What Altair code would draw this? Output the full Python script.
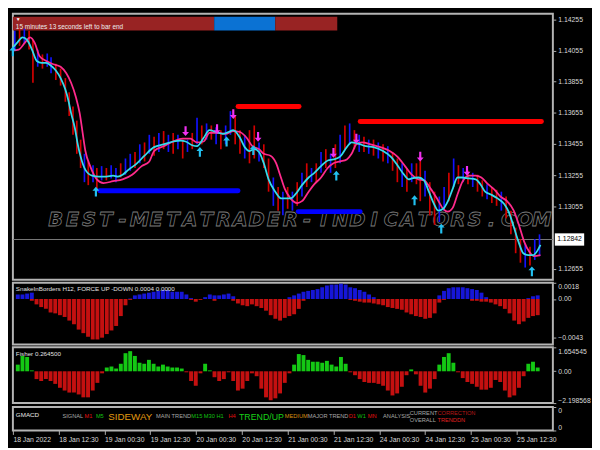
import json
import altair as alt
import pandas as pd

# ---------------- time axis (M15 bars, one label every 48 bars) ----------------
tick_bars = [0, 48, 96, 144, 192, 240, 288, 336, 384, 432, 480, 528]
tick_labels = ["18 Jan 2022", "18 Jan 12:30", "19 Jan 00:30", "19 Jan 12:30",
               "20 Jan 00:30", "20 Jan 12:30", "21 Jan 00:30", "21 Jan 12:30",
               "24 Jan 00:30", "24 Jan 12:30", "25 Jan 00:30", "25 Jan 12:30"]

# ---------------- price panel ----------------
price_ticks = [1.14255, 1.14055, 1.13855, 1.13655, 1.13455, 1.13255, 1.13055, 1.12655]
price_domain = [1.12583, 1.14291]
last_price = 1.12842
countdown_text = "15 minutes 13 seconds left to bar end"
watermark_text = "BEST-METATRADER-INDICATORS.COM"
watermark_span = [36, 563]

candle_bar = [2, 7, 12, 17, 21, 26, 31, 36, 40, 45, 50, 55, 59, 63, 67, 71, 75, 79, 84, 88,
              93, 98, 103, 108, 113, 118, 123, 128, 133, 138, 143, 148, 153, 158, 163, 168, 173, 178, 183, 188,
              193, 198, 203, 208, 213, 218, 223, 228, 233, 238, 243, 248, 253, 258, 263, 268, 273, 278, 283, 288,
              293, 298, 303, 308, 313, 318, 323, 328, 333, 338, 343, 348, 353, 358, 363, 368, 373, 378, 383, 388,
              393, 398, 403, 408, 413, 418, 423, 427, 432, 437, 442, 447, 452, 457, 462, 467, 472, 477, 482, 487,
              492, 497, 502, 507, 512, 517, 522, 527, 532, 537, 542, 547, 552]
candle_high = [1.14182, 1.14195, 1.14195, 1.14182, 1.14122, 1.14061, 1.14030, 1.14036, 1.14012, 1.13970,
               1.13939, 1.13878, 1.13787, 1.13696, 1.13605, 1.13483, 1.13392, 1.13343, 1.13319, 1.13301,
               1.13313, 1.13301, 1.13319, 1.13301, 1.13331, 1.13362, 1.13392, 1.13404, 1.13453, 1.13465,
               1.13514, 1.13501, 1.13526, 1.13538, 1.13514, 1.13526, 1.13514, 1.13483, 1.13483, 1.13526,
               1.13623, 1.13574, 1.13587, 1.13574, 1.13562, 1.13544, 1.13574, 1.13666, 1.13635, 1.13544,
               1.13514, 1.13544, 1.13574, 1.13465, 1.13453, 1.13362, 1.13240, 1.13179, 1.13149, 1.13179,
               1.13149, 1.13210, 1.13270, 1.13331, 1.13301, 1.13331, 1.13404, 1.13422, 1.13392, 1.13453,
               1.13514, 1.13574, 1.13587, 1.13544, 1.13514, 1.13501, 1.13483, 1.13483, 1.13465, 1.13453,
               1.13441, 1.13404, 1.13362, 1.13331, 1.13301, 1.13331, 1.13331, 1.13380, 1.13283, 1.13210,
               1.13149, 1.13118, 1.13179, 1.13270, 1.13362, 1.13319, 1.13301, 1.13283, 1.13270, 1.13258,
               1.13222, 1.13197, 1.13179, 1.13161, 1.13149, 1.13118, 1.13027, 1.12918, 1.12845, 1.12814,
               1.12796, 1.12845, 1.12875]
candle_low = [1.14061, 1.14085, 1.14097, 1.14061, 1.13848, 1.13951, 1.13939, 1.13951, 1.13909, 1.13866,
              1.13830, 1.13726, 1.13635, 1.13514, 1.13392, 1.13301, 1.13210, 1.13191, 1.13210, 1.13149,
              1.13222, 1.13222, 1.13234, 1.13210, 1.13240, 1.13258, 1.13283, 1.13301, 1.13331, 1.13343,
              1.13392, 1.13380, 1.13404, 1.13422, 1.13404, 1.13392, 1.13422, 1.13362, 1.13404, 1.13422,
              1.13453, 1.13453, 1.13483, 1.13483, 1.13453, 1.13422, 1.13453, 1.13514, 1.13453, 1.13392,
              1.13362, 1.13331, 1.13362, 1.13343, 1.13301, 1.13149, 1.13058, 1.13027, 1.12997, 1.13039,
              1.13027, 1.13058, 1.13118, 1.13179, 1.13210, 1.13210, 1.13270, 1.13301, 1.13270, 1.13301,
              1.13331, 1.13422, 1.13453, 1.13422, 1.13404, 1.13404, 1.13392, 1.13380, 1.13362, 1.13343,
              1.13331, 1.13283, 1.13210, 1.13179, 1.13149, 1.13210, 1.13197, 1.13088, 1.13118, 1.12997,
              1.12936, 1.12954, 1.13027, 1.13088, 1.13179, 1.13197, 1.13210, 1.13197, 1.13179, 1.13149,
              1.13118, 1.13100, 1.13076, 1.13058, 1.13027, 1.12979, 1.12875, 1.12754, 1.12693, 1.12662,
              1.12675, 1.12711, 1.12735]
candle_dir = ("u d u d d u d u u d d d d d d d u d u d u d u u d u u d u d "
              "u d u d u d u d u d u d u d u d u u d d u d d u d d u d u d "
              "u d u d u d u d u d u d u d u d u d u d u d d u d u d d u d "
              "d u u d u d u d u d d u d d u d d d d u d u u").split()

fast_bar = [0, 5, 10, 15, 20, 25, 30, 35, 40, 45, 50, 55, 58, 61, 65, 68, 71, 76, 83, 90,
            98, 105, 110, 115, 121, 130, 138, 148, 158, 168, 176, 181, 188, 193, 200, 206, 213, 220, 226, 231,
            238, 243, 248, 253, 258, 263, 268, 275, 281, 285, 291, 296, 303, 310, 316, 323, 330, 336, 343, 350,
            355, 361, 370, 378, 388, 396, 403, 410, 415, 418, 425, 431, 436, 441, 446, 451, 456, 461, 466, 471,
            478, 485, 490, 495, 501, 508, 515, 520, 525, 530, 535, 540, 545, 550, 553]
fast_ma = [1.14073, 1.14109, 1.14140, 1.14122, 1.14061, 1.13988, 1.13976, 1.13976, 1.13957, 1.13927,
           1.13878, 1.13805, 1.13739, 1.13653, 1.13556, 1.13453, 1.13374, 1.13289, 1.13252, 1.13246,
           1.13246, 1.13252, 1.13246, 1.13258, 1.13289, 1.13331, 1.13380, 1.13435, 1.13453, 1.13471,
           1.13477, 1.13471, 1.13447, 1.13441, 1.13495, 1.13544, 1.13532, 1.13520, 1.13532, 1.13544,
           1.13495, 1.13435, 1.13410, 1.13422, 1.13404, 1.13331, 1.13228, 1.13149, 1.13106, 1.13106,
           1.13106, 1.13131, 1.13191, 1.13240, 1.13270, 1.13313, 1.13349, 1.13356, 1.13374, 1.13435,
           1.13465, 1.13459, 1.13441, 1.13435, 1.13410, 1.13374, 1.13319, 1.13258, 1.13228, 1.13234,
           1.13240, 1.13222, 1.13149, 1.13076, 1.13027, 1.13039, 1.13088, 1.13167, 1.13240, 1.13240,
           1.13234, 1.13228, 1.13197, 1.13149, 1.13131, 1.13106, 1.13070, 1.13015, 1.12924, 1.12827,
           1.12754, 1.12741, 1.12741, 1.12772, 1.12808]

slow_bar = [0, 6, 13, 18, 23, 28, 35, 41, 50, 56, 61, 66, 70, 73, 76, 81, 88, 95, 105, 115,
            125, 135, 143, 148, 158, 168, 178, 186, 193, 200, 206, 215, 223, 231, 238, 245, 251, 258, 263, 270,
            276, 280, 285, 291, 298, 303, 310, 316, 323, 330, 336, 343, 350, 355, 360, 366, 375, 385, 395, 403,
            411, 418, 425, 431, 438, 445, 451, 456, 461, 466, 471, 478, 485, 491, 498, 505, 511, 518, 525, 531,
            536, 541, 546, 553]
slow_ma = [1.14055, 1.14061, 1.14109, 1.14140, 1.14103, 1.14018, 1.13988, 1.13970, 1.13951, 1.13909,
           1.13848, 1.13757, 1.13653, 1.13532, 1.13410, 1.13313, 1.13228, 1.13204, 1.13216, 1.13228,
           1.13258, 1.13313, 1.13343, 1.13410, 1.13441, 1.13471, 1.13489, 1.13489, 1.13465, 1.13471,
           1.13526, 1.13526, 1.13520, 1.13538, 1.13532, 1.13495, 1.13441, 1.13422, 1.13392, 1.13380,
           1.13331, 1.13258, 1.13167, 1.13106, 1.13076, 1.13088, 1.13149, 1.13197, 1.13240, 1.13301,
           1.13331, 1.13343, 1.13356, 1.13392, 1.13453, 1.13465, 1.13453, 1.13435, 1.13410, 1.13374,
           1.13313, 1.13258, 1.13228, 1.13222, 1.13167, 1.13100, 1.13039, 1.13021, 1.13045, 1.13131,
           1.13210, 1.13252, 1.13252, 1.13240, 1.13197, 1.13161, 1.13118, 1.13088, 1.13027, 1.12924,
           1.12827, 1.12766, 1.12735, 1.12741]

up_arrow_bar = [0, 87, 196, 224, 252, 339, 421, 449, 544]
up_arrow_price = [1.14049, 1.13149, 1.13404, 1.13471, 1.13416, 1.13252, 1.13094, 1.12912, 1.12638]
dn_arrow_bar = [181, 214, 231, 257, 336, 360, 427, 476]
dn_arrow_price = [1.13538, 1.13550, 1.13647, 1.13501, 1.13398, 1.13489, 1.13374, 1.13283]

level_start = [91, 299, 236, 364]
level_end = [236, 364, 300, 554]
level_price = [1.13155, 1.13021, 1.13696, 1.13599]
level_color = ["#0000ff", "#0000ff", "#ff0000", "#ff0000"]

header_start = [0, 211, 275]
header_end = [211, 275, 340]
header_color = ["#982323", "#0b72d3", "#982323"]

# ---------------- sub windows (sampled every 5 bars) ----------------
sub_bar = list(range(0, 556, 5))
snake_title = "SnakeInBorders H12, FORCE UP -DOWN  0.0004 0.0000"
snake_up = [0.0005, 0.0005, 0.0006, 0.0007, 0, 0, 0, 0, 0, 0,
            0, 0, 0, 0, 0, 0, 0, 0, 0, 0,
            0, 0, 0, 0, 0.00005, 0.0004, 0.0005, 0.0006, 0.0007, 0.0008,
            0.0009, 0.0010, 0.0010, 0.0008, 0.0008, 0.0008, 0.0005, 0.0001, 0, 0,
            0.0002, 0.0005, 0.0004, 0.0004, 0.0005, 0.0006, 0.0003, 0, 0, 0,
            0, 0, 0, 0, 0, 0, 0, 0, 0.0002, 0.0004,
            0.0006, 0.0008, 0.0009, 0.0010, 0.0011, 0.0013, 0.0015, 0.0016, 0.0016, 0.0017,
            0.0016, 0.0013, 0.0012, 0.0010, 0.0008, 0.0005, 0.0002, 0, 0, 0,
            0, 0, 0, 0, 0, 0, 0, 0, 0, 0,
            0.0004, 0.0009, 0.0012, 0.0013, 0.0013, 0.0013, 0.0012, 0.0011, 0.0010, 0.0007,
            0.0002, 0, 0, 0, 0, 0, 0, 0, 0, 0.0001,
            0.0003, 0.0004]
snake_dn = [0, 0, 0, -0.0002, -0.0006, -0.0009, -0.0011, -0.0015, -0.0016, -0.0018,
            -0.0020, -0.0024, -0.0028, -0.0034, -0.0038, -0.0042, -0.0045, -0.0045, -0.0043, -0.0039,
            -0.0035, -0.0030, -0.0019, -0.0007, -0.0001, 0, 0, 0, 0, 0,
            0, 0, 0, 0, 0, 0, 0, -0.0001, -0.0003, -0.0001,
            0, 0, -0.0002, 0, 0, 0, -0.0002, -0.0005, -0.0007, -0.0008,
            -0.0006, -0.0008, -0.0010, -0.0013, -0.0018, -0.0022, -0.0024, -0.0021, -0.0019, -0.0017,
            -0.0011, -0.0002, 0, 0, 0, 0, 0, 0, 0, 0,
            0, -0.0001, -0.0002, -0.0003, -0.0004, -0.0004, -0.0005, -0.0006, -0.0007, -0.0009,
            -0.0010, -0.0011, -0.0012, -0.0015, -0.0017, -0.0019, -0.0020, -0.0022, -0.0021, -0.0016,
            -0.0004, -0.0001, 0, 0, 0, 0, 0, -0.0002, -0.0002, -0.0003,
            -0.0003, -0.0004, -0.0006, -0.0008, -0.0011, -0.0016, -0.0024, -0.0028, -0.0025, -0.0021,
            -0.0019, -0.0018]
snake_ticks = [0.0018, 0.0, -0.0043]
snake_domain = [-0.00505, 0.0018]

fisher_title = "Fisher 0.264500"
fisher = [0.46, 1.06, 0.99, 0.06, -0.54, -0.67, -0.54, -0.67, -0.87, -1.14,
          -1.33, -1.47, -1.47, -1.60, -1.80, -1.80, -1.33, -0.80, -0.14, 0.26,
          0.33, 0.19, 0.52, 1.25, 1.39, 1.06, 0.59, 0.52, 0.79, 0.52,
          0.33, 0.46, 0.33, 0.26, 0.26, 0.19, -0.07, -0.67, -1.00, -0.14,
          0.52, 0.06, -0.41, -0.67, -0.54, -0.07, -0.67, -1.33, -1.20, -0.67,
          -0.14, -0.34, -1.20, -1.80, -2.00, -1.87, -1.53, -0.80, -0.14, 0.46,
          1.19, 1.12, 0.79, 0.66, 0.66, 0.59, 0.72, 0.46, 0.33, 0.99,
          0.52, -0.07, -0.27, -0.54, -0.74, -0.80, -0.80, -0.87, -1.00, -1.33,
          -1.67, -1.53, -1.07, -0.27, 0.13, -0.21, -1.00, -1.47, -1.20, -0.54,
          0.46, 0.99, 1.25, 0.59, -0.07, -0.47, -0.74, -0.87, -1.07, -1.27,
          -1.27, -1.14, -0.60, -0.74, -1.33, -1.80, -1.67, -1.14, -0.34, 0.52,
          0.66, 0.26]
fisher_ticks = [1.654545, 0.0, -2.198568]
fisher_domain = [-2.198568, 1.654545]

gm_title = "GMACD"
gm_text = ["SIGNAL", "M1", "M5", "SIDEWAY", "MAIN TREND", "M15 M30 H1", "H4", "TREND/UP",
           "MEDIUM", "MAJOR TREND", "D1", "W1", "MN", "ANALYSIS", "CURRENT", "CORRECTION",
           "OVERALL", "TRENDDN"]
gm_bar = [52, 75, 87, 100, 150, 187, 226, 237, 285, 309, 352, 361, 372, 388, 416, 445, 416, 445]
gm_row = [0.60, 0.60, 0.60, 0.56, 0.60, 0.60, 0.60, 0.56, 0.60, 0.60, 0.60, 0.60, 0.60, 0.60,
          0.76, 0.76, 0.46, 0.46]
gm_color = ["#a8a8a8", "#e01010", "#10c010", "#e09a10", "#a8a8a8", "#10c010", "#e01010", "#18d018",
            "#d89010", "#a8a8a8", "#e01010", "#10c010", "#e01010", "#a8a8a8", "#a8a8a8", "#b81818",
            "#a8a8a8", "#e02020"]
gm_size = [5.8, 5.8, 5.8, 10, 5.8, 5.8, 5.8, 9, 5.8, 5.8, 5.8, 5.8, 5.8, 5.8, 5.8, 5.8, 5.8, 5.8]

# ---------------- styling ----------------
W = 552
H_MAIN, H_SNAKE, H_FISH, H_GM = 272, 63, 57, 24
FONT = "Liberation Sans"
LBL = "#d8d8d8"
TICK = "#b0b0b0"
XS = alt.Scale(domain=[0, 566], nice=False, zero=False)
UP_PATH = "M0,-1L0.7,-0.2L0.22,-0.2L0.22,1L-0.22,1L-0.22,-0.2L-0.7,-0.2Z"
DN_PATH = "M0,1L0.7,0.2L0.22,0.2L0.22,-1L-0.22,-1L-0.22,0.2L-0.7,0.2Z"
BOX_PATH = "M-1,-0.42H1V0.42H-1Z"


def xenc(field, axis=None):
    return alt.X(f"{field}:Q", scale=XS, axis=axis)


def right_axis(values, label_expr=None, fmt=None, flush=False):
    kw = dict(orient="right", values=values, title=None, grid=False, domain=False,
              tickSize=3, tickColor=TICK, labelColor=LBL, labelFont=FONT, labelFontSize=7,
              labelPadding=2, labelFlush=flush, labelOverlap=False)
    if label_expr:
        kw["labelExpr"] = label_expr
    if fmt:
        kw["format"] = fmt
    return alt.Axis(**kw)


YS = alt.Scale(domain=price_domain, nice=False, zero=False)
YAX = right_axis(price_ticks, fmt=".5f")


def yenc(field):
    return alt.Y(f"{field}:Q", scale=YS, axis=YAX)


# ---------------- main panel ----------------
header = alt.Chart(pd.DataFrame({"s": header_start, "e": header_end, "c": header_color})).mark_rect().encode(
    x=xenc("s"), x2="e", y=alt.value(3), y2=alt.value(17), color=alt.Color("c:N", scale=None))
header_txt = alt.Chart(pd.DataFrame({"t": [countdown_text]})).mark_text(
    align="left", baseline="middle", font=FONT, fontSize=6.6, color="#ececec").encode(
    x=alt.value(3), y=alt.value(13.5), text="t:N")
header_tri = alt.Chart(pd.DataFrame({"t": ["▼"]})).mark_text(
    align="left", baseline="middle", fontSize=5, color="#ffffff").encode(
    x=alt.value(3), y=alt.value(5), text="t:N")

# watermark: wide outlined italic lettering spread evenly over its span
n_wm = len(watermark_text)
wm_step = (watermark_span[1] - watermark_span[0]) / n_wm
wm_df = pd.DataFrame({"ch": list(watermark_text),
                      "pos": [watermark_span[0] + wm_step * (i + 0.5) for i in range(n_wm)]})
watermark = alt.Chart(wm_df).mark_text(
    align="center", baseline="middle", font="DejaVu Sans", fontSize=20, fontStyle="italic",
    fontWeight="bold", fillOpacity=0, stroke="#7c7c7c", strokeWidth=0.8).encode(
    x=xenc("pos"), y=alt.value(211), text="ch:N")

last_rule = alt.Chart(pd.DataFrame({"p": [last_price]})).mark_rule(color="#7c7c7c", strokeWidth=1).encode(
    y=yenc("p"))

candles = alt.Chart(pd.DataFrame({"bar": candle_bar, "high": candle_high, "low": candle_low,
                                  "dir": candle_dir})).mark_rule(strokeWidth=1.7).encode(
    x=xenc("bar"), y=yenc("low"), y2="high",
    color=alt.Color("dir:N", scale=alt.Scale(domain=["u", "d"], range=["#1212ff", "#d40000"]), legend=None))

levels = alt.Chart(pd.DataFrame({"s": level_start, "e": level_end, "p": level_price, "c": level_color})).mark_rule(
    strokeWidth=5, strokeCap="round").encode(
    x=xenc("s"), x2="e", y=yenc("p"), color=alt.Color("c:N", scale=None))

slow_line = alt.Chart(pd.DataFrame({"bar": slow_bar, "ma": slow_ma})).mark_line(
    interpolate="monotone", strokeWidth=1.8, color="#ff2a8c").encode(x=xenc("bar"), y=yenc("ma"))
fast_line = alt.Chart(pd.DataFrame({"bar": fast_bar, "ma": fast_ma})).mark_line(
    interpolate="monotone", strokeWidth=1.8, color="#33dcec").encode(x=xenc("bar"), y=yenc("ma"))

up_arrows = alt.Chart(pd.DataFrame({"bar": up_arrow_bar, "p": up_arrow_price})).mark_point(
    shape=UP_PATH, filled=True, size=100, opacity=1, color="#22c0f0").encode(x=xenc("bar"), y=yenc("p"))
dn_arrows = alt.Chart(pd.DataFrame({"bar": dn_arrow_bar, "p": dn_arrow_price})).mark_point(
    shape=DN_PATH, filled=True, size=100, opacity=1, color="#f030f0").encode(x=xenc("bar"), y=yenc("p"))

price_box = alt.Chart(pd.DataFrame({"p": [last_price]})).mark_point(
    shape=BOX_PATH, filled=True, size=900, opacity=1, color="#ffffff").encode(
    x=alt.value(W + 17), y=yenc("p"))
price_txt = alt.Chart(pd.DataFrame({"p": [last_price], "t": [f"{last_price:.5f}"]})).mark_text(
    align="center", baseline="middle", font=FONT, fontSize=7, color="#000000").encode(
    x=alt.value(W + 17), y=yenc("p"), text="t:N")

main = alt.layer(header, header_txt, header_tri, watermark, last_rule, candles, levels,
                 slow_line, fast_line, up_arrows, dn_arrows, price_box, price_txt).properties(
    width=W, height=H_MAIN)

# ---------------- SnakeInBorders panel ----------------
SYS = alt.Scale(domain=snake_domain, nice=False, zero=False)
SAX = right_axis(snake_ticks, label_expr="datum.value == 0 ? '0.00' : format(datum.value, '.4f')", flush=True)
snake_df = pd.DataFrame({"bar": sub_bar, "up": snake_up, "dn": snake_dn})
snake_upbars = alt.Chart(snake_df).mark_bar(width=4, color="#1616d8").encode(
    x=xenc("bar"), y=alt.Y("up:Q", scale=SYS, axis=SAX), y2=alt.datum(0))
snake_dnbars = alt.Chart(snake_df).mark_bar(width=4, color="#c41010").encode(
    x=xenc("bar"), y=alt.Y("dn:Q", scale=SYS, axis=SAX), y2=alt.datum(0))
snake_ttl = alt.Chart(pd.DataFrame({"t": [snake_title]})).mark_text(
    align="left", baseline="middle", font=FONT, fontSize=6.4, color="#e0e0e0").encode(
    x=alt.value(3), y=alt.value(6), text="t:N")
snake = alt.layer(snake_upbars, snake_dnbars, snake_ttl).properties(width=W, height=H_SNAKE)

# ---------------- Fisher panel ----------------
FYS = alt.Scale(domain=fisher_domain, nice=False, zero=False)
FAX = right_axis(fisher_ticks, label_expr="datum.value == 0 ? '0.00' : format(datum.value, '.6f')", flush=True)
fisher_bars = alt.Chart(pd.DataFrame({"bar": sub_bar, "v": fisher})).mark_bar(width=4).encode(
    x=xenc("bar"), y=alt.Y("v:Q", scale=FYS, axis=FAX), y2=alt.datum(0),
    color=alt.condition("datum.v >= 0", alt.value("#14c814"), alt.value("#c41010")))
fisher_ttl = alt.Chart(pd.DataFrame({"t": [fisher_title]})).mark_text(
    align="left", baseline="middle", font=FONT, fontSize=6.4, color="#e0e0e0").encode(
    x=alt.value(3), y=alt.value(6.5), text="t:N")
fisher_panel = alt.layer(fisher_bars, fisher_ttl).properties(width=W, height=H_FISH)

# ---------------- GMACD panel ----------------
XAX = alt.Axis(values=tick_bars, labelExpr=json.dumps(tick_labels) + "[round(datum.value / 48)]",
               labelAlign="left", labelColor=LBL, labelFont=FONT, labelFontSize=7, tickColor=TICK,
               tickSize=4, labelPadding=1, domain=False, grid=False, title=None, labelOverlap=False,
               labelFlush=False, labelBound=False)
GAX = right_axis([0, 1], label_expr="'0'", flush=True)
gm_txt = alt.Chart(pd.DataFrame({"t": gm_text, "bar": gm_bar, "yy": gm_row, "c": gm_color, "s": gm_size})).mark_text(
    align="left", baseline="middle", font=FONT).encode(
    x=xenc("bar", XAX), y=alt.Y("yy:Q", scale=alt.Scale(domain=[0, 1], nice=False), axis=GAX),
    text="t:N", color=alt.Color("c:N", scale=None), size=alt.Size("s:Q", scale=None))
gm_ttl = alt.Chart(pd.DataFrame({"t": [gm_title]})).mark_text(
    align="left", baseline="middle", font=FONT, fontSize=6.4, color="#e8e8e8").encode(
    x=alt.value(3), y=alt.value(8), text="t:N")
gm = alt.layer(gm_txt, gm_ttl).properties(width=W, height=H_GM)

chart = alt.vconcat(main, snake, fisher_panel, gm, spacing=0, padding=0, background="#000000").resolve_scale(
    x="independent", y="independent").configure_view(stroke="#b4b4b4", strokeWidth=2)

chart.save("out.html", embed_options={"renderer": "svg", "actions": False})
